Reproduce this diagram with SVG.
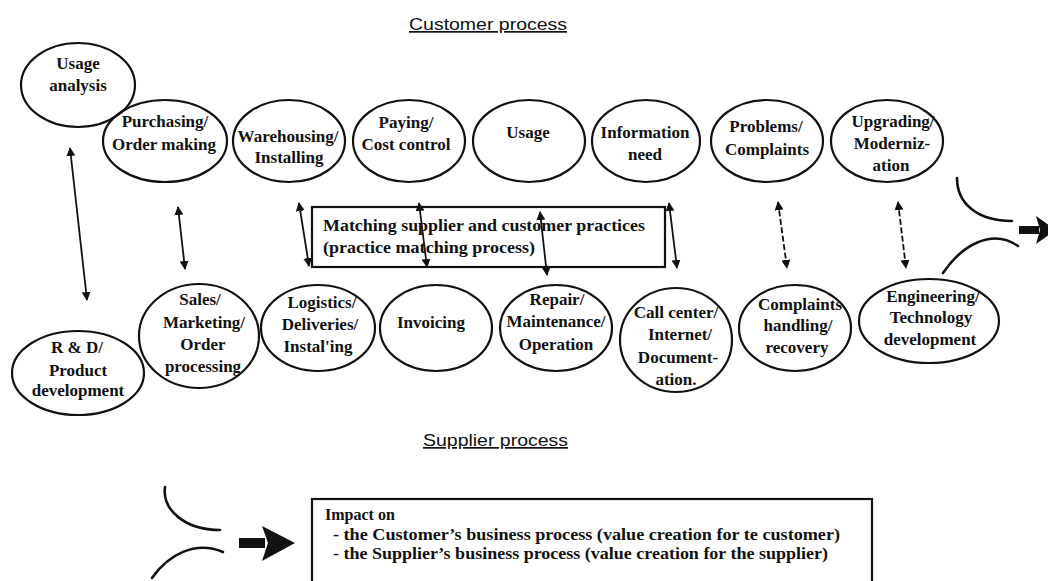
<svg xmlns="http://www.w3.org/2000/svg" width="1048" height="581" viewBox="0 0 1048 581">
  <style>
    .node ellipse { fill: none; stroke: #111; stroke-width: 2.2; }
    .lbl { font-family: "Liberation Serif", "Times New Roman", serif; font-weight: bold; font-size: 17px; fill: #111; text-anchor: middle; }
    .title { font-family: "Liberation Sans", Arial, sans-serif; font-size: 17px; fill: #111; text-decoration: underline; }
    .box { fill: none; stroke: #111; stroke-width: 2.2; }
    .boxtxt { font-family: "Liberation Serif", "Times New Roman", serif; font-weight: bold; font-size: 16px; fill: #111; }
    .link { stroke: #111; stroke-width: 1.8; fill: none; marker-start: url(#head); marker-end: url(#head); }
    .dashed { stroke-dasharray: 6 2.5; }
    .curve { stroke: #111; stroke-width: 2.6; fill: none; stroke-linecap: round; }
  </style>
  <defs>
    <marker id="head" viewBox="0 0 10 10" refX="9" refY="5" markerWidth="5" markerHeight="5" orient="auto-start-reverse" markerUnits="strokeWidth">
      <path d="M0,0 L10,5 L0,10 Z" fill="#111"/>
    </marker>
  </defs>

  <rect width="1048" height="581" fill="#fff"/>

  <!-- section titles -->
  <text class="title" x="409" y="30" textLength="158" lengthAdjust="spacingAndGlyphs">Customer process</text>
  <text class="title" x="423" y="446" textLength="145" lengthAdjust="spacingAndGlyphs">Supplier process</text>

  <!-- customer-side activities -->
  <g id="usage-analysis" class="node">
    <ellipse cx="78" cy="85" rx="57" ry="42"/>
    <text class="lbl" x="78" y="69">Usage</text>
    <text class="lbl" x="78" y="91">analysis</text>
  </g>
  <g id="purchasing" class="node">
    <ellipse cx="165" cy="141" rx="62" ry="41"/>
    <text class="lbl" x="165" y="127">Purchasing/</text>
    <text class="lbl" x="164" y="150">Order making</text>
  </g>
  <g id="warehousing" class="node">
    <ellipse cx="289" cy="141" rx="56" ry="41"/>
    <text class="lbl" x="288" y="142">Warehousing/</text>
    <text class="lbl" x="289" y="163">Installing</text>
  </g>
  <g id="paying" class="node">
    <ellipse cx="409" cy="141" rx="56" ry="41"/>
    <text class="lbl" x="406" y="128">Paying/</text>
    <text class="lbl" x="406" y="150">Cost control</text>
  </g>
  <g id="usage" class="node">
    <ellipse cx="529" cy="141" rx="56" ry="41"/>
    <text class="lbl" x="528" y="138">Usage</text>
  </g>
  <g id="information-need" class="node">
    <ellipse cx="646" cy="141" rx="54" ry="41"/>
    <text class="lbl" x="645" y="138">Information</text>
    <text class="lbl" x="645" y="160">need</text>
  </g>
  <g id="problems" class="node">
    <ellipse cx="767" cy="141" rx="56" ry="41"/>
    <text class="lbl" x="766" y="132">Problems/</text>
    <text class="lbl" x="767" y="155">Complaints</text>
  </g>
  <g id="upgrading" class="node">
    <ellipse cx="887" cy="141" rx="56" ry="41"/>
    <text class="lbl" x="893" y="127">Upgrading/</text>
    <text class="lbl" x="892" y="149">Moderniz-</text>
    <text class="lbl" x="891" y="171">ation</text>
  </g>

  <!-- practice matching -->
  <g id="matching">
    <rect class="box" x="312" y="207" width="353" height="60"/>
    <text class="boxtxt" x="323" y="231" textLength="322" lengthAdjust="spacingAndGlyphs">Matching supplier and customer practices</text>
    <text class="boxtxt" x="323" y="253" textLength="212" lengthAdjust="spacingAndGlyphs">(practice matching process)</text>
  </g>

  <!-- supplier-side activities -->
  <g id="rnd" class="node">
    <ellipse cx="78" cy="373" rx="66" ry="42"/>
    <text class="lbl" x="77" y="353">R &amp; D/</text>
    <text class="lbl" x="78" y="376">Product</text>
    <text class="lbl" x="78" y="396">development</text>
  </g>
  <g id="sales" class="node">
    <ellipse cx="199" cy="336" rx="60" ry="52"/>
    <text class="lbl" x="200" y="305">Sales/</text>
    <text class="lbl" x="204" y="328">Marketing/</text>
    <text class="lbl" x="203" y="350">Order</text>
    <text class="lbl" x="203" y="372">processing</text>
  </g>
  <g id="logistics" class="node">
    <ellipse cx="318" cy="328" rx="57" ry="43"/>
    <text class="lbl" x="322" y="308">Logistics/</text>
    <text class="lbl" x="320" y="330">Deliveries/</text>
    <text class="lbl" x="318" y="352">Instal'ing</text>
  </g>
  <g id="invoicing" class="node">
    <ellipse cx="436" cy="328" rx="56" ry="43"/>
    <text class="lbl" x="431" y="328">Invoicing</text>
  </g>
  <g id="repair" class="node">
    <ellipse cx="556" cy="328" rx="56" ry="43"/>
    <text class="lbl" x="557" y="305">Repair/</text>
    <text class="lbl" x="556" y="327">Maintenance/</text>
    <text class="lbl" x="556" y="350">Operation</text>
  </g>
  <g id="call-center" class="node">
    <ellipse cx="676" cy="340" rx="56" ry="52"/>
    <text class="lbl" x="676" y="318">Call center/</text>
    <text class="lbl" x="680" y="340">Internet/</text>
    <text class="lbl" x="678" y="363">Document-</text>
    <text class="lbl" x="676" y="385">ation.</text>
  </g>
  <g id="complaints-handling" class="node">
    <ellipse cx="795" cy="328" rx="56" ry="43"/>
    <text class="lbl" x="800" y="310">Complaints</text>
    <text class="lbl" x="798" y="331">handling/</text>
    <text class="lbl" x="797" y="353">recovery</text>
  </g>
  <g id="engineering" class="node">
    <ellipse cx="929" cy="321" rx="70" ry="42"/>
    <text class="lbl" x="933" y="302">Engineering/</text>
    <text class="lbl" x="931" y="323">Technology</text>
    <text class="lbl" x="930" y="345">development</text>
  </g>

  <!-- customer/supplier correspondences -->
  <g id="connectors">
    <line class="link" x1="70" y1="148" x2="87" y2="300"/>
    <line class="link" x1="178" y1="207" x2="185" y2="269"/>
    <line class="link" x1="299" y1="203" x2="309" y2="266"/>
    <line class="link" x1="419" y1="203" x2="427" y2="267"/>
    <line class="link" x1="540" y1="212" x2="547" y2="275"/>
    <line class="link" x1="669" y1="203" x2="677" y2="268"/>
    <line class="link dashed" x1="778" y1="202" x2="787" y2="268"/>
    <line class="link dashed" x1="898" y1="202" x2="906" y2="268"/>
  </g>

  <!-- converging curves with outgoing arrow, right -->
  <g id="merge-right">
    <path class="curve" d="M957,178 C957,204 978,221 1012,221"/>
    <path class="curve" d="M943,273 C962,245 992,228 1018,246"/>
    <rect x="1019" y="226" width="20" height="8" fill="#111"/>
    <path d="M1036,216 L1056,230 L1036,244 L1040,230 Z" fill="#111"/>
  </g>

  <!-- converging curves with outgoing arrow, bottom left -->
  <g id="merge-left">
    <path class="curve" d="M165,487 C162,510 185,530 220,530"/>
    <path class="curve" d="M152,578 C168,555 195,540 223,552"/>
    <rect x="239" y="538" width="26" height="10" fill="#111"/>
    <path d="M262,526 L295,543 L262,561 L268,543 Z" fill="#111"/>
  </g>

  <!-- impact -->
  <g id="impact">
    <rect class="box" x="312" y="499" width="560" height="100"/>
    <text class="boxtxt" x="325" y="520">Impact on</text>
    <text class="boxtxt" x="333" y="540" textLength="507" lengthAdjust="spacingAndGlyphs">- the Customer’s business process (value creation for te customer)</text>
    <text class="boxtxt" x="333" y="559" textLength="495" lengthAdjust="spacingAndGlyphs">- the Supplier’s business process (value creation for the supplier)</text>
  </g>
</svg>
